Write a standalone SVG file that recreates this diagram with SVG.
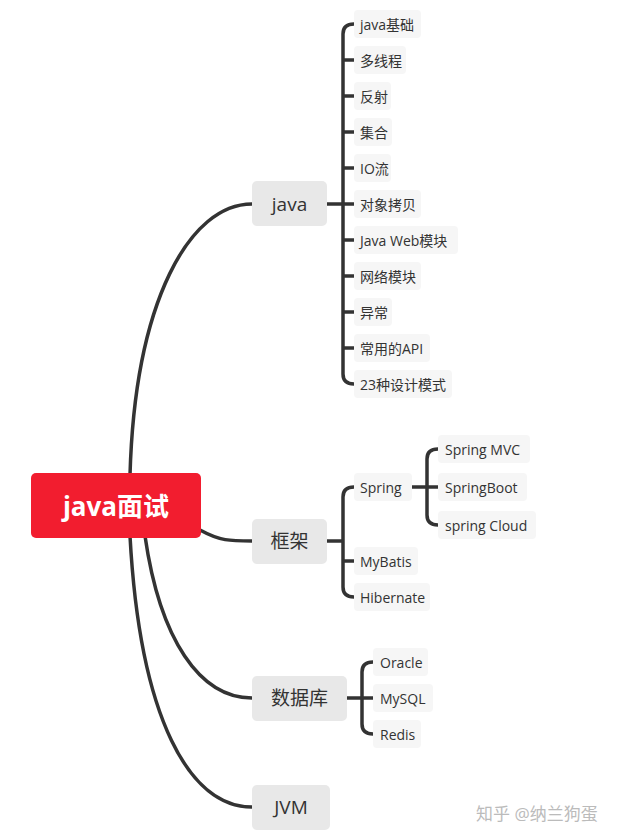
<svg xmlns="http://www.w3.org/2000/svg" width="626" height="840" viewBox="0 0 626 840">
<style>
text{font-family:"Open Sans","Noto Sans CJK SC",sans-serif;fill:#333;dominant-baseline:central}
.l{font-size:14px}
.m{font-size:19px;text-anchor:middle}
.lf{fill:#f6f6f6}
.mn{fill:#e8e8e8}
.c{fill:none;stroke:#333;stroke-width:3.5;stroke-linecap:round}
</style>
<rect width="626" height="840" fill="#fff"/>
<g id="connectors" class="c">
<path d="M130,475 C135,300 190,204 252,204"/>
<path d="M200,530 C220,541 230,541 252,541"/>
<path d="M145,536 C160,640 200,698 252,698"/>
<path d="M130,536 C140,720 190,807 252,807"/>
<path d="M327,204 H354 M354,24 Q343,24 343,34 V374 Q343,384 354,384 M343,60 H354 M343,96 H354 M343,132 H354 M343,168 H354 M343,240 H354 M343,276 H354 M343,312 H354 M343,348 H354"/>
<path d="M327,541 H343 M354,487 Q343,487 343,497 V587 Q343,597 354,597 M343,561 H354"/>
<path d="M412,487 H438 M438,449 Q427,449 427,459 V515 Q427,525 438,525"/>
<path d="M347,698 H373 M373,662 Q362,662 362,672 V724 Q362,734 373,734"/>
</g>
<g id="root"><rect x="31" y="473" width="170" height="65" rx="5" fill="#f21d2f"/><text x="116" y="506" style="font-size:26px;font-weight:bold;fill:#fff;text-anchor:middle">java面试</text></g>
<g id="java"><rect class="mn" x="252" y="181" width="75" height="45" rx="5"/><text class="m" x="289.5" y="204">java</text></g>
<g id="kuangjia"><rect class="mn" x="252" y="519" width="75" height="45" rx="5"/><text class="m" x="289.5" y="541">框架</text></g>
<g id="db"><rect class="mn" x="252" y="676" width="95" height="45" rx="5"/><text class="m" x="299.5" y="698">数据库</text></g>
<g id="jvm"><rect class="mn" x="252" y="785" width="78" height="45" rx="5"/><text class="m" x="291" y="807">JVM</text></g>
<g id="j1"><rect class="lf" x="354" y="10" width="67" height="28" rx="4"/><text class="l" x="360" y="24">java基础</text></g>
<g id="j2"><rect class="lf" x="354" y="46" width="52" height="28" rx="4"/><text class="l" x="360" y="60">多线程</text></g>
<g id="j3"><rect class="lf" x="354" y="82" width="37" height="28" rx="4"/><text class="l" x="360" y="96">反射</text></g>
<g id="j4"><rect class="lf" x="354" y="118" width="38" height="28" rx="4"/><text class="l" x="360" y="132">集合</text></g>
<g id="j5"><rect class="lf" x="354" y="154" width="37" height="28" rx="4"/><text class="l" x="360" y="168">IO流</text></g>
<g id="j6"><rect class="lf" x="354" y="190" width="67" height="28" rx="4"/><text class="l" x="360" y="204">对象拷贝</text></g>
<g id="j7"><rect class="lf" x="354" y="226" width="104" height="28" rx="4"/><text class="l" x="360" y="240">Java Web模块</text></g>
<g id="j8"><rect class="lf" x="354" y="262" width="67" height="28" rx="4"/><text class="l" x="360" y="276">网络模块</text></g>
<g id="j9"><rect class="lf" x="354" y="298" width="38" height="28" rx="4"/><text class="l" x="360" y="312">异常</text></g>
<g id="j10"><rect class="lf" x="354" y="334" width="76" height="28" rx="4"/><text class="l" x="360" y="348">常用的API</text></g>
<g id="j11"><rect class="lf" x="354" y="370" width="98" height="28" rx="4"/><text class="l" x="360" y="384">23种设计模式</text></g>
<g id="spring"><rect class="lf" x="354" y="473" width="58" height="28" rx="4"/><text class="l" x="360" y="487">Spring</text></g>
<g id="mybatis"><rect class="lf" x="354" y="547" width="64" height="28" rx="4"/><text class="l" x="360" y="561">MyBatis</text></g>
<g id="hibernate"><rect class="lf" x="354" y="583" width="76" height="28" rx="4"/><text class="l" x="360" y="597">Hibernate</text></g>
<g id="smvc"><rect class="lf" x="438" y="435" width="92" height="28" rx="4"/><text class="l" x="445" y="449">Spring MVC</text></g>
<g id="sboot"><rect class="lf" x="438" y="473" width="89" height="28" rx="4"/><text class="l" x="445" y="487">SpringBoot</text></g>
<g id="scloud"><rect class="lf" x="438" y="511" width="98" height="28" rx="4"/><text class="l" x="445" y="525">spring Cloud</text></g>
<g id="oracle"><rect class="lf" x="373" y="648" width="55" height="28" rx="4"/><text class="l" x="380" y="662">Oracle</text></g>
<g id="mysql"><rect class="lf" x="373" y="684" width="60" height="28" rx="4"/><text class="l" x="380" y="698">MySQL</text></g>
<g id="redis"><rect class="lf" x="373" y="720" width="48" height="28" rx="4"/><text class="l" x="380" y="734">Redis</text></g>
<text x="476" y="813" style="font-size:17px;fill:#bbb">知乎 @纳兰狗蛋</text>
</svg>
